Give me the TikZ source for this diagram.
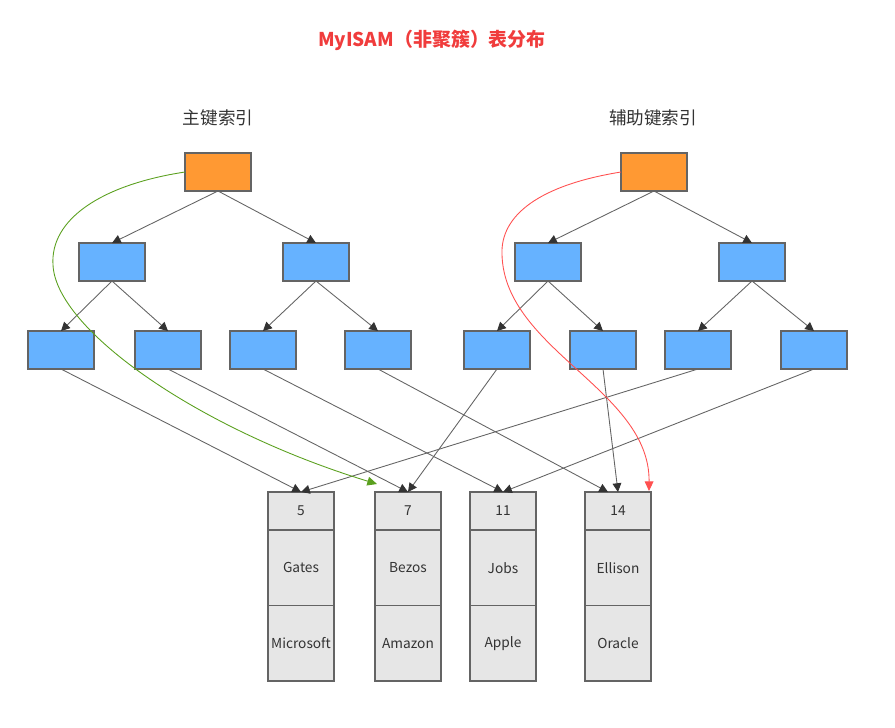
\documentclass[tikz,border=0pt]{standalone}
\usepackage{fontspec}
\setmainfont{Noto Sans CJK SC}
\usetikzlibrary{arrows.meta, positioning, calc}

\definecolor{rootorange}{RGB}{255,153,51}
\definecolor{nodeblue}{RGB}{102,178,255}
\definecolor{cellgray}{RGB}{230,230,230}
\definecolor{edgegray}{RGB}{100,100,100}
\definecolor{textgray}{RGB}{51,51,51}
\definecolor{pathgreen}{RGB}{90,160,30}
\definecolor{pathred}{RGB}{255,80,80}
\definecolor{titlered}{RGB}{240,60,60}

\begin{document}
\begin{tikzpicture}[x=0.02cm, y=-0.02cm,
            treebox/.style={draw=edgegray, line width=0.6pt, minimum width=1.32cm, minimum height=0.76cm, inner sep=0pt, outer sep=0pt},
            rootbox/.style={treebox, fill=rootorange},
            branchbox/.style={treebox, fill=nodeblue},
            cell/.style={draw=edgegray, line width=0.6pt, fill=cellgray, minimum width=1.32cm, inner sep=0pt, outer sep=0pt, text=textgray, font=\fontsize{7.8}{9}\selectfont},
            keycell/.style={cell, minimum height=0.76cm},
            datacell/.style={cell, minimum height=1.51cm},
            heading/.style={text=textgray, font=\fontsize{10}{12}\selectfont},
            link/.style={draw=edgegray, line width=0.5pt, -{Triangle[length=5pt, width=5pt, color=black!80]}},
            lookup/.style={line width=0.5pt, -{Triangle[length=5.5pt, width=5pt]}}]

            \useasboundingbox (0,0) rectangle (895,727);

            % Titles
            \node[text=titlered, font=\bfseries\fontsize{10.8}{13}\selectfont] (maintitle) at (432,40) {MyISAM（非聚簇）表分布};
            \node[heading] (ptitle) at (218,118) {主键索引};
            \node[heading] (stitle) at (653,118) {辅助键索引};

            % Primary key tree
            \node[rootbox] (p0) at (218,172) {};
            \node[branchbox] (p1) at (112,262) {};
            \node[branchbox] (p2) at (316,262) {};
            \node[branchbox] (p11) at (61,350) {};
            \node[branchbox] (p12) at (168,350) {};
            \node[branchbox] (p21) at (263,350) {};
            \node[branchbox] (p22) at (378,350) {};

            % Secondary key tree
            \node[rootbox] (s0) at (654,172) {};
            \node[branchbox] (s1) at (548,262) {};
            \node[branchbox] (s2) at (752,262) {};
            \node[branchbox] (s11) at (497,350) {};
            \node[branchbox] (s12) at (603,350) {};
            \node[branchbox] (s21) at (698,350) {};
            \node[branchbox] (s22) at (814,350) {};

            % Data rows
            \node[keycell] (k5) at (301,511) {5};
            \node[datacell, below=0pt of k5] (n5) {Gates};
            \node[datacell, below=0pt of n5] (c5) {Microsoft};

            \node[keycell] (k7) at (408,511) {7};
            \node[datacell, below=0pt of k7] (n7) {Bezos};
            \node[datacell, below=0pt of n7] (c7) {Amazon};

            \node[keycell] (k11) at (503,511) {11};
            \node[datacell, below=0pt of k11] (n11) {Jobs};
            \node[datacell, below=0pt of n11] (c11) {Apple};

            \node[keycell] (k14) at (618,511) {14};
            \node[datacell, below=0pt of k14] (n14) {Ellison};
            \node[datacell, below=0pt of n14] (c14) {Oracle};

            % Tree edges
            \draw[link] (p0.south) -- (p1.north);
            \draw[link] (p0.south) -- (p2.north);
            \draw[link] (p1.south) -- (p11.north);
            \draw[link] (p1.south) -- (p12.north);
            \draw[link] (p2.south) -- (p21.north);
            \draw[link] (p2.south) -- (p22.north);
            \draw[link] (s0.south) -- (s1.north);
            \draw[link] (s0.south) -- (s2.north);
            \draw[link] (s1.south) -- (s11.north);
            \draw[link] (s1.south) -- (s12.north);
            \draw[link] (s2.south) -- (s21.north);
            \draw[link] (s2.south) -- (s22.north);

            % Leaves to rows
            \draw[link] (p11.south) -- (k5.north);
            \draw[link] (p12.south) -- (k7.north);
            \draw[link] (p21.south) -- (k11.north);
            \draw[link] (p22.south) -- ([xshift=-0.2cm]k14.north);
            \draw[link] (s11.south) -- (k7.north);
            \draw[link] (s12.south) -- (k14.north);
            \draw[link] (s21.south) -- (k5.north);
            \draw[link] (s22.south) -- (k11.north);

            % Lookup paths
            \coordinate (hitseven) at ($(k7.north west)+(2,-8)$);
            \coordinate (hitfourteen) at ($(k14.north east)+(-2,-1)$);
            \draw[lookup, pathgreen] (p0.west) .. controls (100,185) and (50,220) .. (53,265)
                .. controls (56,330) and (200,430) .. (hitseven);
            \draw[lookup, pathred] (s0.west) .. controls (540,185) and (500,215) .. (502,255)
                .. controls (505,350) and (650,390) .. (hitfourteen);
        \end{tikzpicture}
\end{document}
